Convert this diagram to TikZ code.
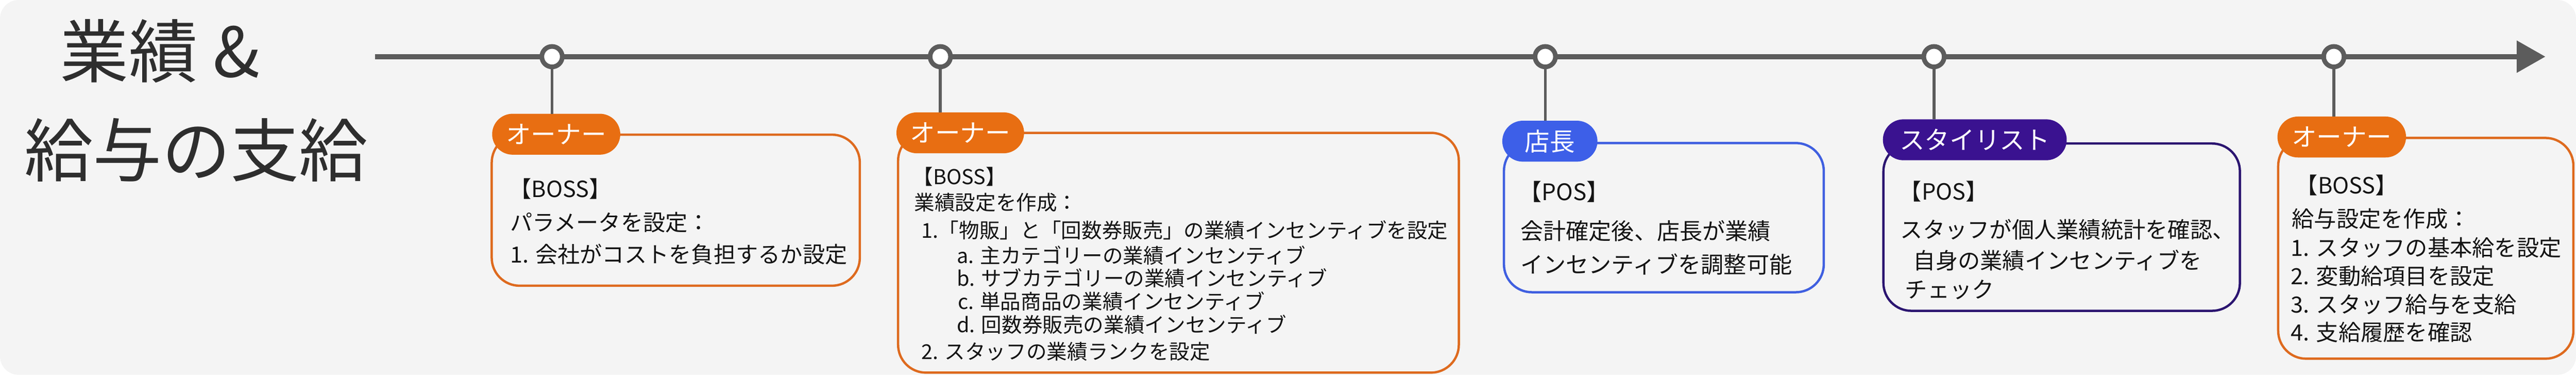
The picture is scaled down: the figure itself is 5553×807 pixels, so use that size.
\documentclass[tikz,border=0pt]{standalone}
\usepackage{fontspec}
\setmainfont{Noto Sans CJK JP}
\usetikzlibrary{arrows.meta}
\definecolor{bgC}{HTML}{F4F4F4}
\definecolor{lineC}{HTML}{5C5C5C}
\definecolor{txtC}{HTML}{141414}
\definecolor{titleC}{HTML}{2E2E2E}
\definecolor{orangeF}{HTML}{E86E12}
\definecolor{orangeB}{HTML}{DE6A1E}
\definecolor{blueF}{HTML}{3D5FE8}
\definecolor{blueB}{HTML}{3F5FE0}
\definecolor{purpleF}{HTML}{3A1290}
\definecolor{purpleB}{HTML}{2B1570}
\tikzset{
  txt/.style={anchor=base west, inner sep=0, text=txtC, font=\fontsize{13.66pt}{16pt}\selectfont},
  txtS/.style={anchor=base west, inner sep=0, text=txtC, font=\fontsize{12.52pt}{15pt}\selectfont},
  txtM/.style={anchor=base west, inner sep=0, text=txtC, font=\fontsize{13.94pt}{16pt}\selectfont},
  ttl/.style={anchor=base west, inner sep=0, text=titleC, font=\fontsize{42.1pt}{48pt}\selectfont},
  badge/.style={rounded corners=0.44cm, minimum height=0.88cm, inner sep=0, outer sep=0, text=white, font=\fontsize{15.36pt}{18pt}\selectfont},
  card/.style={draw, line width=0.05cm, rounded corners=0.6cm, anchor=north west, inner sep=0, outer sep=0},
  tlcircle/.style={circle, draw=lineC, fill=white, line width=0.1cm, minimum size=0.44cm, inner sep=0},
  stem/.style={draw=lineC, line width=0.06cm}
}
\begin{document}
\begin{tikzpicture}[x=0.01cm, y=-0.01cm]
\useasboundingbox (0,0) rectangle (5553,807);
\fill[bgC, rounded corners=0.4cm] (0,0) rectangle (5553,807);

% title
\node[ttl] (t1) at (129,166) {業績 \&};
\node[ttl] (t2) at (52,379) {給与の支給};

% timeline
\coordinate (tls) at (809,122);
\coordinate (tle) at (5487,122);
\draw[lineC, line width=0.11cm, -{Triangle[length=0.62cm,width=0.67cm]}] (tls) -- (tle);

\node[tlcircle] (c1) at (1190,122) {};
\node[tlcircle] (c2) at (2027,122) {};
\node[tlcircle] (c3) at (3331,122) {};
\node[tlcircle] (c4) at (4169,122) {};
\node[tlcircle] (c5) at (5031,122) {};

% cards
\node[card, draw=orangeB, minimum width=7.93cm, minimum height=3.25cm] (k1) at (1060,290) {};
\node[card, draw=orangeB, minimum width=12.08cm, minimum height=5.16cm] (k2) at (1936,286) {};
\node[card, draw=blueB, minimum width=6.89cm, minimum height=3.21cm] (k3) at (3242,308) {};
\node[card, draw=purpleB, minimum width=7.68cm, minimum height=3.60cm] (k4) at (4060,309) {};
\node[card, draw=orangeB, minimum width=6.36cm, minimum height=4.75cm] (k5) at (4911,297) {};

% badges
\node[badge, fill=orangeF, minimum width=2.76cm] (b1) at (1199,289) {オーナー};
\node[badge, fill=orangeF, minimum width=2.75cm] (b2) at (2070,286) {オーナー};
\node[badge, fill=blueF, minimum width=2.05cm] (b3) at (3341,304) {店長};
\node[badge, fill=purpleF, minimum width=3.96cm] (b4) at (4257,301) {スタイリスト};
\node[badge, fill=orangeF, minimum width=2.77cm] (b5) at (5048,295) {オーナー};

% stems
\draw[stem] (c1.south) -- (c1 |- b1.north);
\draw[stem] (c2.south) -- (c2 |- b2.north);
\draw[stem] (c3.south) -- (c3 |- b3.north);
\draw[stem] (c4.south) -- (c4 |- b4.north);
\draw[stem] (c5.south) -- (c5 |- b5.north);

% card 1 text
\node[txt] (k1a) at (1097,425) {【BOSS】};
\node[txt] (k1b) at (1099,497) {パラメータを設定：};
\node[txt] (k1c) at (1099,566) {1. 会社がコストを負担するか設定};

% card 2 text
\node[txtS] (k2a) at (1967,397) {【BOSS】};
\node[txtS] (k2b) at (1970,453) {業績設定を作成：};
\node[txtS] (k2c) at (1986,513) {1.「物販」と「回数券販売」の業績インセンティブを設定};
\node[txtS] (k2d) at (2062,567) {a. 主カテゴリーの業績インセンティブ};
\node[txtS] (k2e) at (2062,616) {b. サブカテゴリーの業績インセンティブ};
\node[txtS] (k2f) at (2064,666) {c. 単品商品の業績インセンティブ};
\node[txtS] (k2g) at (2062,716) {d. 回数券販売の業績インセンティブ};
\node[txtS] (k2h) at (1986,774) {2. スタッフの業績ランクを設定};

% card 3 text
\node[txtM] (k3a) at (3274,431) {【POS】};
\node[txtM] (k3b) at (3277,516) {会計確定後、店長が業績};
\node[txtM] (k3c) at (3277,588) {インセンティブを調整可能};

% card 4 text
\node[txt] (k4a) at (4094,430) {【POS】};
\node[txt] (k4b) at (4096,512) {スタッフが個人業績統計を確認、};
\node[txt] (k4c) at (4124,579) {自身の業績インセンティブを};
\node[txt] (k4d) at (4106,641) {チェック};

% card 5 text
\node[txt] (k5a) at (4948,417) {【BOSS】};
\node[txt] (k5b) at (4940,489) {給与設定を作成：};
\node[txt] (k5c) at (4938,551) {1. スタッフの基本給を設定};
\node[txt] (k5d) at (4938,612) {2. 変動給項目を設定};
\node[txt] (k5e) at (4938,674) {3. スタッフ給与を支給};
\node[txt] (k5f) at (4938,733) {4. 支給履歴を確認};
\end{tikzpicture}
\end{document}
